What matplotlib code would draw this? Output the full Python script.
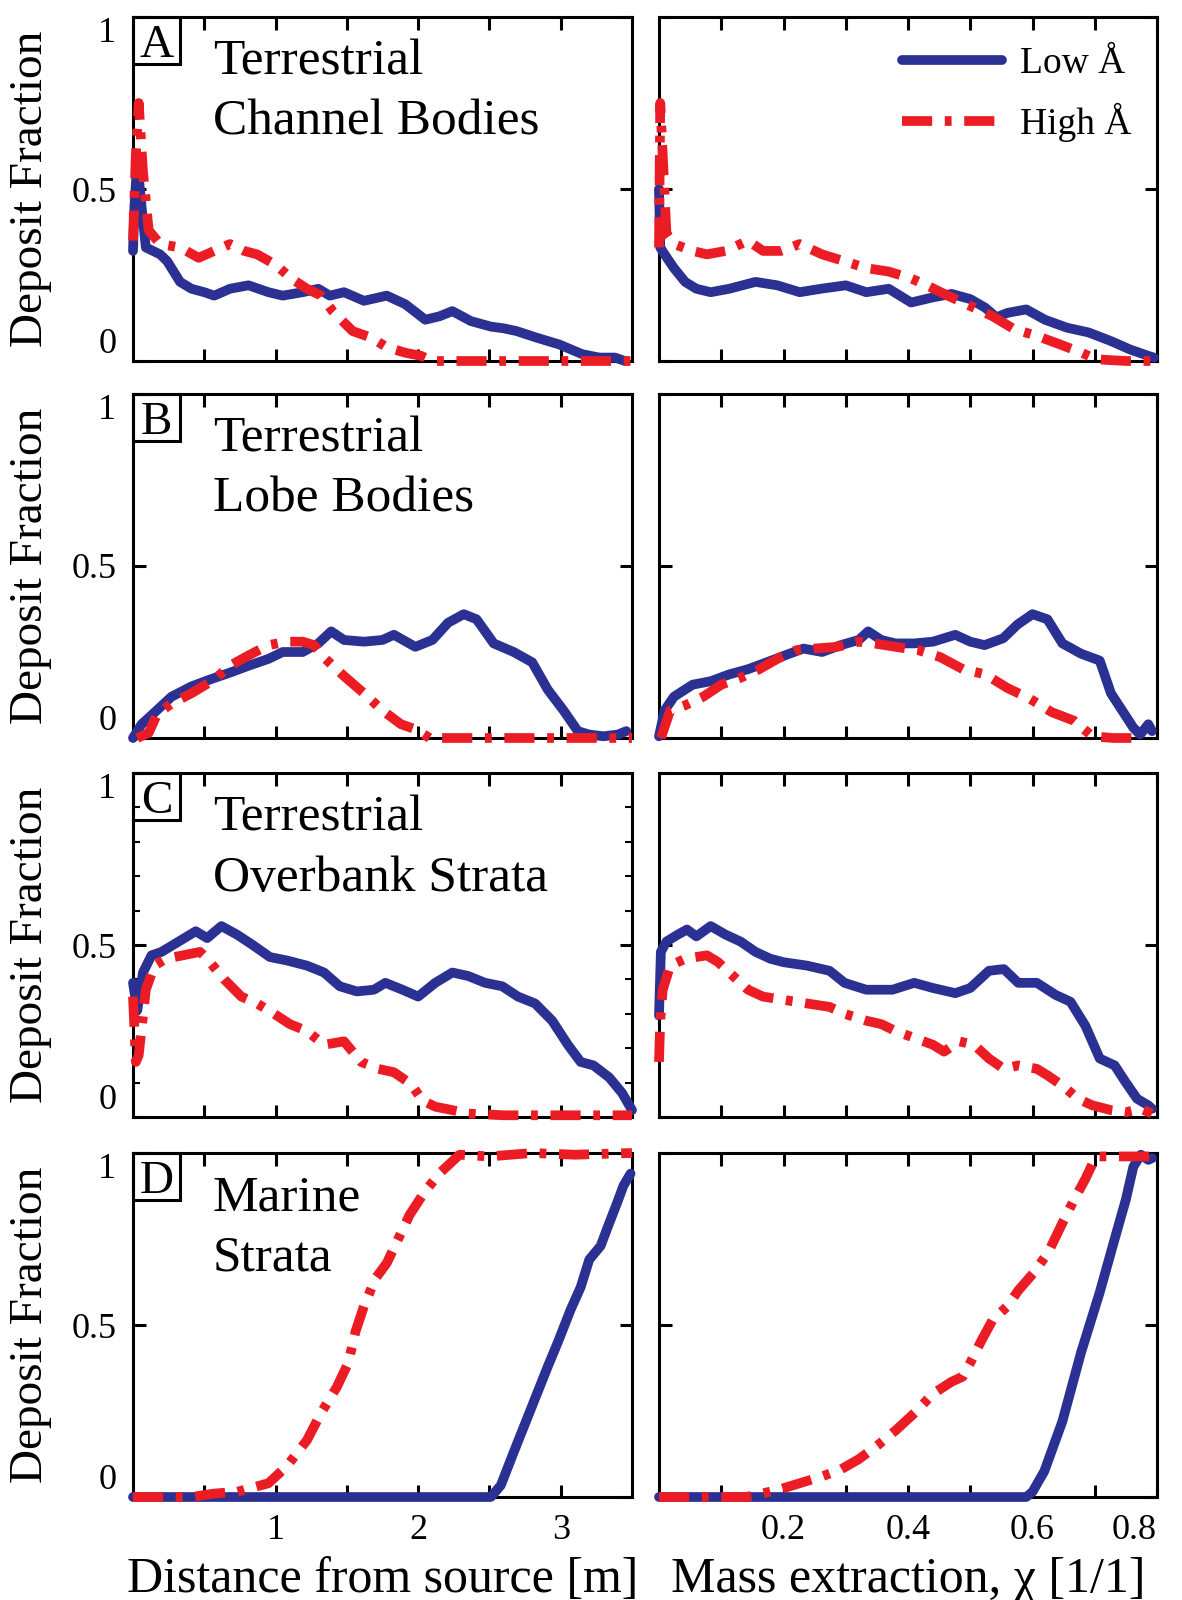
import matplotlib
matplotlib.use('Agg')
import matplotlib.pyplot as plt
from matplotlib.patches import Rectangle

plt.rcParams['font.family'] = ['Liberation Serif', 'DejaVu Serif']

BLUE = '#2b3192'
RED = '#ec1c24'

# ---- data ----
# row A: terrestrial channel bodies
xA_dist_low = [0.0, 0.01, 0.03, 0.06, 0.09, 0.14, 0.19, 0.24, 0.33, 0.41, 0.50, 0.57, 0.68, 0.81, 0.95, 1.05,
               1.19, 1.30, 1.38, 1.48, 1.62, 1.78, 1.91, 2.05, 2.15, 2.24, 2.37, 2.51, 2.60, 2.69, 2.83, 2.99,
               3.15, 3.27, 3.38, 3.45]
yA_dist_low = [0.32, 0.45, 0.58, 0.45, 0.33, 0.32, 0.31, 0.29, 0.23, 0.21, 0.20, 0.19, 0.21, 0.22, 0.20, 0.19,
               0.20, 0.21, 0.19, 0.20, 0.175, 0.19, 0.165, 0.12, 0.13, 0.145, 0.116, 0.10, 0.095, 0.087, 0.068,
               0.048, 0.02, 0.01, 0.01, 0.0]
xA_dist_high = [0.0, 0.02, 0.04, 0.07, 0.11, 0.19, 0.33, 0.46, 0.57, 0.68, 0.78, 0.87, 1.0, 1.11, 1.22, 1.32,
                1.40, 1.54, 1.67, 1.78, 1.91, 2.02, 2.10, 2.5, 3.0, 3.5]
yA_dist_high = [0.35, 0.60, 0.75, 0.55, 0.38, 0.34, 0.33, 0.30, 0.32, 0.34, 0.32, 0.31, 0.28, 0.24, 0.21, 0.19,
                0.145, 0.087, 0.068, 0.04, 0.024, 0.015, 0.0, 0.0, 0.0, 0.0]
xA_chi_low = [0.0, 0.002, 0.009, 0.024, 0.042, 0.06, 0.083, 0.113, 0.155, 0.19, 0.226, 0.26, 0.30, 0.333, 0.369,
              0.405, 0.44, 0.47, 0.50, 0.524, 0.542, 0.56, 0.59, 0.62, 0.655, 0.69, 0.726, 0.756, 0.786, 0.795]
yA_chi_low = [0.50, 0.33, 0.31, 0.27, 0.23, 0.21, 0.20, 0.21, 0.23, 0.22, 0.20, 0.21, 0.22, 0.20, 0.21,
              0.17, 0.185, 0.195, 0.18, 0.155, 0.127, 0.14, 0.15, 0.12, 0.097, 0.083, 0.058, 0.034, 0.015, 0.01]
xA_chi_high = [0.0, 0.002, 0.012, 0.024, 0.054, 0.077, 0.107, 0.143, 0.167, 0.196, 0.226, 0.262, 0.298, 0.333,
               0.369, 0.405, 0.43, 0.464, 0.5, 0.536, 0.57, 0.607, 0.643, 0.679, 0.702, 0.75, 0.79]
yA_chi_high = [0.33, 0.75, 0.37, 0.34, 0.32, 0.31, 0.32, 0.35, 0.32, 0.32, 0.34, 0.31, 0.29, 0.27,
               0.26, 0.24, 0.22, 0.19, 0.16, 0.13, 0.093, 0.073, 0.049, 0.024, 0.005, 0.0, 0.0]

# row B: terrestrial lobe bodies
xB_dist_low = [0.0, 0.06, 0.14, 0.27, 0.41, 0.54, 0.68, 0.81, 0.95, 1.05, 1.19, 1.30, 1.39, 1.48, 1.62, 1.75,
               1.83, 1.98, 2.10, 2.21, 2.32, 2.41, 2.53, 2.67, 2.80, 2.91, 3.02, 3.12, 3.20, 3.30, 3.40, 3.46]
yB_dist_low = [0.0, 0.04, 0.07, 0.12, 0.15, 0.17, 0.19, 0.21, 0.23, 0.25, 0.25, 0.275, 0.31, 0.285, 0.28, 0.285,
               0.30, 0.265, 0.285, 0.335, 0.36, 0.345, 0.275, 0.25, 0.22, 0.14, 0.08, 0.02, 0.01, 0.005, 0.01, 0.02]
xB_dist_high = [0.03, 0.11, 0.17, 0.27, 0.41, 0.57, 0.68, 0.81, 0.95, 1.08, 1.19, 1.27, 1.35, 1.48, 1.62, 1.75,
                1.88, 1.99, 2.08, 2.5, 3.0, 3.5]
yB_dist_high = [0.0, 0.015, 0.07, 0.10, 0.13, 0.17, 0.21, 0.24, 0.27, 0.28, 0.28, 0.27, 0.23, 0.18, 0.13, 0.08,
                0.04, 0.024, 0.0, 0.0, 0.0, 0.0]
xB_chi_low = [0.0, 0.009, 0.024, 0.054, 0.083, 0.113, 0.143, 0.173, 0.202, 0.232, 0.262, 0.292, 0.321, 0.336,
              0.357, 0.38, 0.41, 0.44, 0.476, 0.5, 0.523, 0.553, 0.576, 0.6, 0.624, 0.648, 0.678, 0.708, 0.726,
              0.744, 0.762, 0.773, 0.786, 0.792]
yB_chi_low = [0.005, 0.08, 0.12, 0.155, 0.165, 0.185, 0.20, 0.22, 0.24, 0.26, 0.25, 0.27, 0.285, 0.31,
              0.285, 0.275, 0.275, 0.28, 0.30, 0.28, 0.27, 0.29, 0.33, 0.36, 0.345, 0.275, 0.245, 0.225, 0.13,
              0.08, 0.03, 0.01, 0.04, 0.02]
xB_chi_high = [0.003, 0.018, 0.042, 0.071, 0.1, 0.131, 0.161, 0.19, 0.22, 0.25, 0.286, 0.321, 0.345, 0.38,
               0.417, 0.452, 0.488, 0.524, 0.56, 0.595, 0.631, 0.667, 0.696, 0.73, 0.774]
yB_chi_high = [0.0, 0.08, 0.095, 0.12, 0.155, 0.175, 0.2, 0.23, 0.255, 0.26, 0.265, 0.28, 0.275, 0.265,
               0.255, 0.235, 0.2, 0.185, 0.145, 0.115, 0.075, 0.05, 0.005, 0.0, 0.0]

# row C: terrestrial overbank strata
xC_dist_low = [0.0, 0.03, 0.07, 0.13, 0.20, 0.32, 0.44, 0.52, 0.62, 0.73, 0.84, 0.96, 1.08, 1.22, 1.34, 1.45,
               1.57, 1.69, 1.77, 1.89, 2.0, 2.12, 2.24, 2.35, 2.47, 2.59, 2.70, 2.82, 2.94, 3.05, 3.14, 3.23,
               3.34, 3.43, 3.50]
yC_dist_low = [0.39, 0.31, 0.42, 0.47, 0.48, 0.51, 0.54, 0.52, 0.555, 0.53, 0.50, 0.465, 0.455, 0.44, 0.42, 0.38,
               0.365, 0.37, 0.39, 0.37, 0.35, 0.39, 0.42, 0.41, 0.39, 0.38, 0.35, 0.33, 0.28, 0.21, 0.16, 0.15,
               0.115, 0.07, 0.02]
xC_dist_high = [0.0, 0.02, 0.04, 0.09, 0.15, 0.23, 0.35, 0.47, 0.52, 0.64, 0.76, 0.87, 0.99, 1.10, 1.22, 1.34,
                1.48, 1.60, 1.72, 1.83, 1.95, 2.03, 2.12, 2.24, 2.35, 2.6, 2.9, 3.2, 3.5]
yC_dist_high = [0.35, 0.16, 0.18, 0.37, 0.44, 0.46, 0.47, 0.48, 0.46, 0.40, 0.35, 0.33, 0.30, 0.27, 0.25, 0.21,
                0.22, 0.16, 0.14, 0.13, 0.096, 0.048, 0.03, 0.02, 0.01, 0.005, 0.005, 0.005, 0.005]
xC_chi_low = [0.0, 0.003, 0.012, 0.03, 0.045, 0.06, 0.083, 0.107, 0.131, 0.155, 0.179, 0.2, 0.238, 0.274, 0.298,
              0.333, 0.375, 0.41, 0.44, 0.476, 0.5, 0.53, 0.554, 0.577, 0.607, 0.637, 0.661, 0.685, 0.708,
              0.732, 0.75, 0.768, 0.786, 0.792]
yC_chi_low = [0.295, 0.48, 0.51, 0.53, 0.545, 0.525, 0.555, 0.53, 0.51, 0.48, 0.46, 0.45, 0.44, 0.425, 0.39,
              0.37, 0.37, 0.39, 0.375, 0.36, 0.375, 0.425, 0.43, 0.39, 0.39, 0.355, 0.335, 0.265, 0.17,
              0.15, 0.10, 0.053, 0.034, 0.024]
xC_chi_high = [0.0, 0.002, 0.006, 0.018, 0.042, 0.077, 0.095, 0.119, 0.143, 0.167, 0.202, 0.238, 0.274, 0.298,
               0.333, 0.357, 0.38, 0.41, 0.44, 0.458, 0.482, 0.506, 0.53, 0.554, 0.577, 0.607, 0.625, 0.649,
               0.673, 0.696, 0.726, 0.75, 0.774, 0.792]
yC_chi_high = [0.16, 0.28, 0.37, 0.44, 0.46, 0.47, 0.45, 0.41, 0.37, 0.35, 0.34, 0.33, 0.32, 0.30,
               0.28, 0.27, 0.25, 0.23, 0.21, 0.19, 0.22, 0.21, 0.17, 0.14, 0.15, 0.14, 0.12, 0.09,
               0.053, 0.034, 0.02, 0.014, 0.024, 0.01]

# row D: marine strata
xD_dist_low = [0.0, 1.0, 2.0, 2.51, 2.58, 2.67, 2.79, 2.91, 2.98, 3.07, 3.14, 3.20, 3.28, 3.33, 3.40, 3.44, 3.49]
yD_dist_low = [0.0, 0.0, 0.0, 0.0, 0.034, 0.13, 0.255, 0.38, 0.45, 0.545, 0.61, 0.69, 0.73, 0.785, 0.86, 0.905, 0.94]
xD_dist_high = [0.0, 0.41, 0.57, 0.73, 0.95, 1.08, 1.22, 1.32, 1.43, 1.51, 1.56, 1.62, 1.70, 1.78, 1.86, 1.94,
                2.05, 2.16, 2.29, 2.5, 2.8, 3.1, 3.5]
yD_dist_high = [0.0, 0.0, 0.01, 0.015, 0.04, 0.09, 0.165, 0.245, 0.32, 0.39, 0.48, 0.555, 0.635, 0.68, 0.75, 0.82,
                0.89, 0.945, 0.995, 0.99, 1.0, 0.995, 1.0]
xD_chi_low = [0.0, 0.3, 0.59, 0.6, 0.619, 0.648, 0.678, 0.708, 0.732, 0.75, 0.762, 0.774, 0.786, 0.792]
yD_chi_low = [0.0, 0.0, 0.0, 0.015, 0.075, 0.22, 0.42, 0.595, 0.75, 0.865, 0.96, 0.995, 0.98, 0.985]
xD_chi_high = [0.0, 0.14, 0.19, 0.226, 0.262, 0.292, 0.321, 0.351, 0.381, 0.411, 0.44, 0.47, 0.488, 0.5, 0.518,
               0.536, 0.56, 0.577, 0.601, 0.625, 0.649, 0.667, 0.685, 0.702, 0.75, 0.79]
yD_chi_high = [0.0, 0.0, 0.02, 0.04, 0.06, 0.08, 0.11, 0.15, 0.195, 0.245, 0.30, 0.335, 0.35, 0.39, 0.455,
               0.515, 0.555, 0.6, 0.65, 0.71, 0.80, 0.865, 0.925, 0.99, 0.99, 0.99]

panel_letters = ['A', 'B', 'C', 'D']
panel_titles = [('Terrestrial', 'Channel Bodies'), ('Terrestrial', 'Lobe Bodies'),
                ('Terrestrial', 'Overbank Strata'), ('Marine', 'Strata')]
dist_series = [(xA_dist_low, yA_dist_low, xA_dist_high, yA_dist_high),
               (xB_dist_low, yB_dist_low, xB_dist_high, yB_dist_high),
               (xC_dist_low, yC_dist_low, xC_dist_high, yC_dist_high),
               (xD_dist_low, yD_dist_low, xD_dist_high, yD_dist_high)]
chi_series = [(xA_chi_low, yA_chi_low, xA_chi_high, yA_chi_high),
              (xB_chi_low, yB_chi_low, xB_chi_high, yB_chi_high),
              (xC_chi_low, yC_chi_low, xC_chi_high, yC_chi_high),
              (xD_chi_low, yD_chi_low, xD_chi_high, yD_chi_high)]

dist_ticks = [0.5, 1.0, 1.5, 2.0, 2.5, 3.0]
dist_ticklabels = ['', '1', '', '2', '', '3']
chi_ticks = [0.1, 0.2, 0.3, 0.4, 0.5, 0.6, 0.7, 0.8]
chi_ticklabels = ['', '0.2', '', '0.4', '', '0.6', '', '0.8']
y_ticks = [0, 0.5, 1]
y_ticklabels = ['0', '0.5', '1']
legend_labels = ['Low Å', 'High Å']

# ---- layout ----
W, H = 1182, 1600
fig = plt.figure(figsize=(W / 100, H / 100), dpi=100)
row_tops = [17, 394, 773, 1153]
ax_h = 344
left_x, left_w = 133, 499
right_x, right_w = 659, 498

LW = 7
DASH = (3.1, 1.3, 0.7, 1.3)


def style_axes(ax):
    for s in ax.spines.values():
        s.set_linewidth(2.2)
    ax.tick_params(direction='in', length=9, width=2.2, top=True, right=True,
                   labelsize=26, pad=12)
    ax.set_ylim(0, 1)


for i in range(4):
    bottom = 1 - (row_tops[i] + ax_h) / H
    axL = fig.add_axes([left_x / W, bottom, left_w / W, ax_h / H])
    axR = fig.add_axes([right_x / W, bottom, right_w / W, ax_h / H])

    xl, yl, xh, yh = dist_series[i]
    axL.plot(xl, yl, color=BLUE, lw=LW, clip_on=False, zorder=3, solid_capstyle='round')
    axL.plot(xh, yh, color=RED, lw=LW, dashes=DASH, clip_on=False, zorder=4, dash_capstyle='butt')
    xl, yl, xh, yh = chi_series[i]
    lo, = axR.plot(xl, yl, color=BLUE, lw=LW, clip_on=False, zorder=3, solid_capstyle='round')
    hi, = axR.plot(xh, yh, color=RED, lw=LW, dashes=DASH, clip_on=False, zorder=4, dash_capstyle='butt')

    for ax in (axL, axR):
        style_axes(ax)
        ax.set_yticks(y_ticks)
    axL.set_xlim(0, 3.5)
    axR.set_xlim(0, 0.8)
    axL.set_xticks(dist_ticks)
    axR.set_xticks(chi_ticks)
    axL.set_yticklabels(y_ticklabels)
    axR.set_yticklabels([])
    if i == 3:
        axL.set_xticklabels(dist_ticklabels)
        axR.set_xticklabels(chi_ticklabels)
        axR.get_xticklabels()[-1].set_ha('right')
        axL.set_xlabel('Distance from source [m]', fontsize=36, labelpad=7)
        axR.set_xlabel('Mass extraction, χ [1/1]', fontsize=36, labelpad=7)
    else:
        axL.set_xticklabels([])
        axR.set_xticklabels([])
    labs = axL.get_yticklabels()
    labs[0].set_va('bottom')
    labs[2].set_va('top')

    if i == 2:
        axL.set_yticks([0.1, 0.2, 0.3, 0.4, 0.6, 0.7, 0.8, 0.9], minor=True)
        axL.tick_params(which='minor', direction='in', length=5, width=1.5, right=True)

    # panel letter box
    bw = 47 / left_w
    bh = 47 / ax_h
    axL.add_patch(Rectangle((0, 1 - bh), bw, bh, transform=axL.transAxes, fill=False,
                            ec='black', lw=2.2, clip_on=False, zorder=5))
    axL.text(bw / 2, 1 - bh / 2, panel_letters[i], transform=axL.transAxes, fontsize=34,
             ha='center', va='center_baseline')

    t1, t2 = panel_titles[i]
    axL.text(0.16, 0.832, t1, transform=axL.transAxes, fontsize=37, va='baseline', ha='left')
    axL.text(0.16, 0.657, t2, transform=axL.transAxes, fontsize=37, va='baseline', ha='left')

    fig.text(31 / W, 1 - (row_tops[i] + ax_h / 2) / H, 'Deposit Fraction', rotation=90,
             ha='center', va='center', fontsize=34)

    if i == 0:
        axR.legend([lo, hi], legend_labels, loc='upper left', bbox_to_anchor=(0.488, 0.915),
                   frameon=False, fontsize=27, handlelength=2.67, handletextpad=0.48,
                   labelspacing=0.6, borderpad=0, borderaxespad=0)

fig.savefig('out.png', dpi=100)
